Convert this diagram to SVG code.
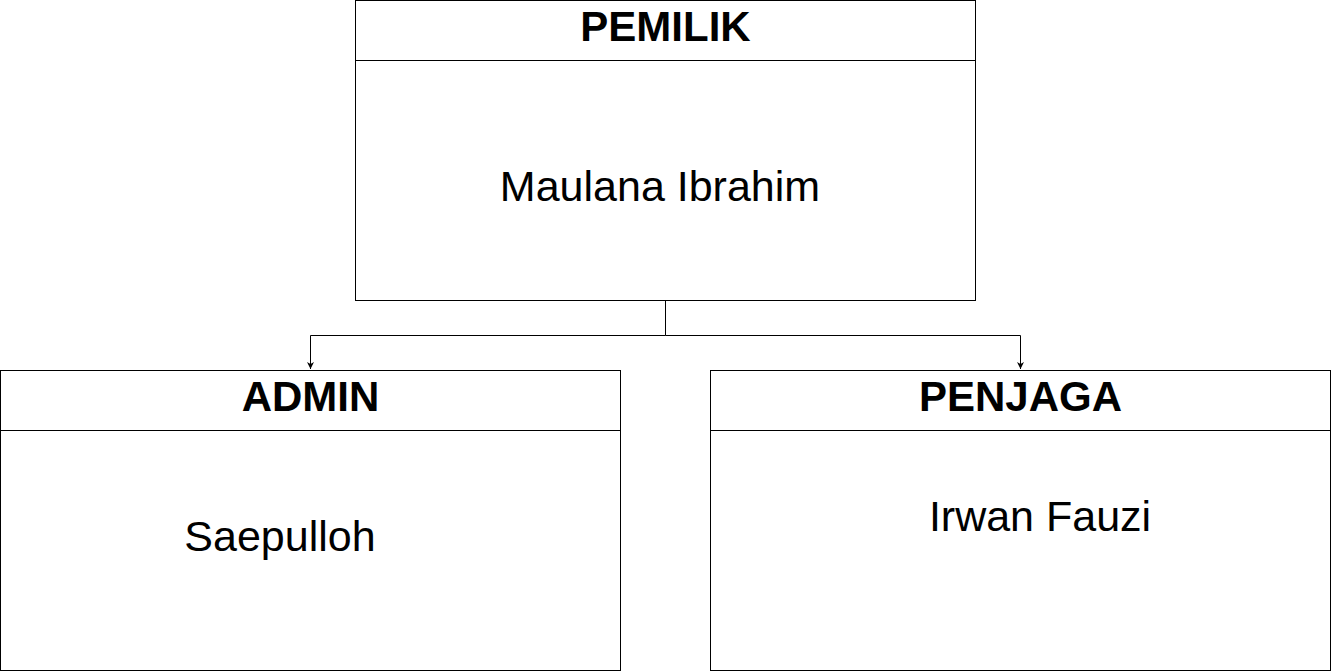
<svg xmlns="http://www.w3.org/2000/svg" width="1331" height="672" viewBox="0 0 1331 672">
<style>
.box{fill:#fff;stroke:#000;stroke-width:1}
.hdr{font-family:"Liberation Sans",Arial,sans-serif;font-weight:bold;font-size:42px;text-anchor:middle;fill:#000}
.body{font-family:"Liberation Sans",Arial,sans-serif;font-size:43px;text-anchor:middle;fill:#000}
.conn{fill:none;stroke:#000;stroke-width:1}
</style>
<defs>
<marker id="arr" markerWidth="8" markerHeight="8" refX="7" refY="4" orient="auto" markerUnits="userSpaceOnUse">
<path d="M0,0.5 L7,4 L0,7.5 L2,4 Z" fill="#000"/>
</marker>
</defs>
<rect width="1331" height="672" fill="#fff"/>
<g id="connectors">
<path class="conn" d="M665.5,300.5 V335.5 H310.5 V369" marker-end="url(#arr)"/>
<path class="conn" d="M665.5,335.5 H1020.5 V369" marker-end="url(#arr)"/>
</g>
<g id="pemilik">
<rect class="box" x="355.5" y="0.5" width="620" height="300"/>
<line class="conn" x1="355.5" y1="60.5" x2="975.5" y2="60.5"/>
<text class="hdr" x="665.5" y="41">PEMILIK</text>
<text class="body" x="660" y="201">Maulana Ibrahim</text>
</g>
<g id="admin">
<rect class="box" x="0.5" y="370.5" width="620" height="300"/>
<line class="conn" x1="0.5" y1="430.5" x2="620.5" y2="430.5"/>
<text class="hdr" x="310.5" y="411">ADMIN</text>
<text class="body" x="280" y="551">Saepulloh</text>
</g>
<g id="penjaga">
<rect class="box" x="710.5" y="370.5" width="620" height="300"/>
<line class="conn" x1="710.5" y1="430.5" x2="1330.5" y2="430.5"/>
<text class="hdr" x="1020.5" y="411">PENJAGA</text>
<text class="body" x="1040" y="531">Irwan Fauzi</text>
</g>
</svg>
